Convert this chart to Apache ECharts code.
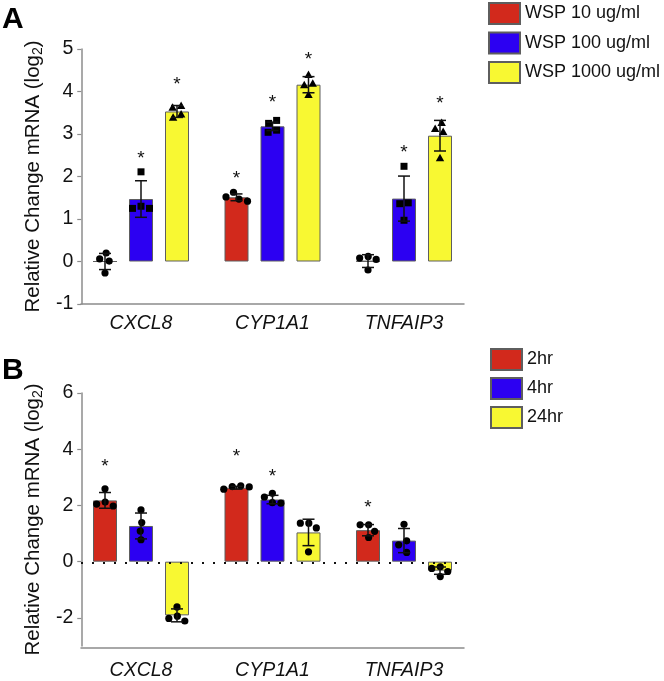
<!DOCTYPE html>
<html><head><meta charset="utf-8">
<script src="https://cdn.jsdelivr.net/npm/echarts@6/dist/echarts.min.js"></script>
<style>html,body{margin:0;padding:0;background:#fff}#c{width:664px;height:681px}</style>
</head><body><div id="c"></div>
<script>
// ---------- DATA ----------
const genes = ['CXCL8', 'CYP1A1', 'TNFAIP3'];
const namesA = ['WSP 10 ug/ml', 'WSP 100 ug/ml', 'WSP 1000 ug/ml'];
const namesB = ['2hr', '4hr', '24hr'];
const yTicksB = [-2, 0, 2, 4, 6];

// Panel A: means, SD, significance-marker height, replicate points
const meanA10   = [0.00, 1.51, 0.01];
const meanA100  = [1.47, 3.18, 1.48];
const meanA1000 = [3.53, 4.16, 2.96];
const errA10    = [0.19, 0.08, 0.15];
const errA100   = [0.43, 0.10, 0.53];
const errA1000  = [0.14, 0.19, 0.36];
const sigA10    = [null, 2.05, null];
const sigA100   = [2.52, 3.84, 2.65];
const sigA1000  = [4.26, 4.85, 3.81];
const ptsA10    = [[0.06, 0.20, 0.01, -0.27], [1.42, 1.52, 1.47, 1.63], [0.12, 0.05, 0.08, -0.20]];
const ptsA100   = [[2.11, 1.25, 1.30, 1.25], [3.25, 3.32, 3.04, 3.09], [2.24, 1.38, 1.36, 0.97]];
const ptsA1000  = [[3.66, 3.62, 3.46, 3.38], [4.39, 4.18, 4.15, 3.92], [3.26, 3.12, 3.05, 2.43]];

// Panel B
const meanB2  = [2.18, 2.63, 1.12];
const meanB4  = [1.27, 2.21, 0.75];
const meanB24 = [-1.91, 1.04, -0.32];
const errB2   = [0.28, 0.05, 0.20];
const errB4   = [0.46, 0.15, 0.43];
const errB24  = [0.23, 0.47, 0.13];
const sigB2   = [3.51, 3.86, 2.07];
const sigB4   = [null, 3.18, null];
const sigB24  = [null, null, null];
const ptsB2   = [[2.59, 2.12, 2.05, 1.98], [2.58, 2.70, 2.67, 2.66], [1.31, 1.31, 1.08, 0.86]];
const ptsB4   = [[1.84, 1.39, 1.09, 0.78], [2.43, 2.30, 2.10, 2.08], [1.33, 0.74, 0.60, 0.33]];
const ptsB24  = [[-1.61, -1.94, -2.11, -2.02], [1.37, 1.37, 1.20, 0.35], [-0.18, -0.24, -0.35, -0.53]];

// ---------- STYLE ----------
const FONT = 'Liberation Sans, Arial, sans-serif';
const COLORS = ['#d2291c', '#2c00f2', '#f8f832'];
const AXIS_COLOR = '#8c8c8c';
const BAR_W = 24, BAR_STEP = 36, CAP = 6, MIN_D = 8.5;

function markerEl(type, cx, cy) {
  const style = { fill: '#000' };
  if (type === 'square') return { type: 'rect', shape: { x: cx - 3.5, y: cy - 3.5, width: 7, height: 7 }, style };
  if (type === 'triangle') return { type: 'polygon', shape: { points: [[cx, cy - 4.5], [cx + 4.2, cy + 3], [cx - 4.2, cy + 3]] }, style };
  return { type: 'circle', shape: { cx, cy, r: 3.6 }, style };
}

// simple beeswarm: spread colliding points horizontally, then centre each cluster
function swarm(ys) {
  const order = ys.map((y, i) => i).sort((a, b) => ys[a] - ys[b]);
  const off = new Array(ys.length).fill(0);
  const placed = [];
  order.forEach(i => {
    let best = 0;
    for (let d = 0; d <= 40; d += 0.5) {
      let ok = false;
      for (const c of [-d, d]) {
        if (placed.every(p => Math.hypot(p[0] - c, p[1] - ys[i]) >= MIN_D)) { best = c; ok = true; break; }
      }
      if (ok) break;
    }
    off[i] = best;
    placed.push([best, ys[i]]);
  });
  let cluster = [order[0]];
  const clusters = [];
  for (let k = 1; k < order.length; k++) {
    if (ys[order[k]] - ys[order[k - 1]] < MIN_D) cluster.push(order[k]);
    else { clusters.push(cluster); cluster = [order[k]]; }
  }
  clusters.push(cluster);
  clusters.forEach(cl => {
    const m = cl.reduce((s, i) => s + off[i], 0) / cl.length;
    cl.forEach(i => { off[i] -= m; });
  });
  return off;
}

function makeRender(slot, marker) {
  return function (params, api) {
    const cat = api.value(0);
    const mean = api.value(1), err = api.value(2), sig = api.value(3);
    const pts = [api.value(4), api.value(5), api.value(6), api.value(7)];
    const x = api.coord([cat, mean])[0] + (slot - 1) * BAR_STEP;
    const yTop = api.coord([cat, mean + err])[1];
    const yBot = api.coord([cat, mean - err])[1];
    const ls = { stroke: '#111', lineWidth: 1.5 };
    const children = [];
    const ys = pts.map(v => api.coord([cat, v])[1]);
    const off = swarm(ys);
    ys.forEach((y, i) => children.push(markerEl(marker, x + off[i], y)));
    children.push({ type: 'line', shape: { x1: x, y1: yTop, x2: x, y2: yBot }, style: ls });
    children.push({ type: 'line', shape: { x1: x - CAP, y1: yTop, x2: x + CAP, y2: yTop }, style: ls });
    children.push({ type: 'line', shape: { x1: x - CAP, y1: yBot, x2: x + CAP, y2: yBot }, style: ls });
    if (!isNaN(sig)) {
      const ys2 = api.coord([cat, sig])[1];
      children.push({ type: 'text', style: { text: '*', x: x, y: ys2 + 4, font: '19px ' + FONT, fill: '#111', align: 'center', verticalAlign: 'middle' } });
    }
    return { type: 'group', children };
  };
}

function buildPanel(idx, names, means, errs, sigs, pts, markers) {
  const out = [];
  names.forEach((n, s) => {
    out.push({
      name: n, type: 'bar', xAxisIndex: idx, yAxisIndex: idx, barWidth: BAR_W, barGap: '50%', z: 1,
      itemStyle: { color: COLORS[s], borderColor: '#5e5e5e', borderWidth: 1 },
      data: means[s]
    });
  });
  names.forEach((n, s) => {
    out.push({
      name: n + ' pts', type: 'custom', xAxisIndex: idx, yAxisIndex: idx, z: 3, clip: false,
      renderItem: makeRender(s, markers[s]),
      encode: { x: 0, y: 1 },
      data: genes.map((g, i) => [i, means[s][i], errs[s][i], sigs[s][i] == null ? '-' : sigs[s][i]].concat(pts[s][i]))
    });
  });
  return out;
}

const seriesA = buildPanel(0, namesA, [meanA10, meanA100, meanA1000], [errA10, errA100, errA1000],
  [sigA10, sigA100, sigA1000], [ptsA10, ptsA100, ptsA1000], ['circle', 'square', 'triangle']);
const seriesB = buildPanel(1, namesB, [meanB2, meanB4, meanB24], [errB2, errB4, errB24],
  [sigB2, sigB4, sigB24], [ptsB2, ptsB4, ptsB24], ['circle', 'circle', 'circle']);
// dotted zero line in panel B (drawn in the frame grid so it spans the axis frame only)
const zeroLine = {
  name: 'zero', type: 'line', xAxisIndex: 3, yAxisIndex: 3, z: 5, data: [],
  markLine: {
    silent: true, symbol: 'none', animation: false, label: { show: false },
    lineStyle: { type: [2, 9], color: '#111', width: 2.2 },
    data: [{ yAxis: 0 }]
  }
};

const FONT_AX = 19.5;
const yName = {
  name: '{a|Relative Change mRNA (log}{s|2}{a|)}',
  nameLocation: 'middle', nameGap: 32, nameRotate: 90,
  nameTextStyle: { rich: { a: { fontSize: 20.5, fontFamily: FONT, color: '#111' }, s: { fontSize: 14, fontFamily: FONT, color: '#111', verticalAlign: 'bottom', padding: [9, 0, 0, 0] } } }
};
const axisCommonY = {
  type: 'value', offset: -6,
  axisLine: { show: true, lineStyle: { color: AXIS_COLOR, width: 1.5 } },
  axisTick: { show: true, length: 4, lineStyle: { color: AXIS_COLOR, width: 1.2 } },
  splitLine: { show: false },
  axisLabel: { fontSize: FONT_AX, fontFamily: FONT, color: '#111', margin: 8 }
};
const xCommon = {
  type: 'category', data: genes,
  axisLine: { show: false, onZero: false },
  axisTick: { show: false },
  axisLabel: { fontSize: FONT_AX, fontFamily: FONT, color: '#111', fontStyle: 'italic' }
};
const frameX = {
  type: 'value', min: 0, max: 1, axisLabel: { show: false }, axisTick: { show: false }, splitLine: { show: false },
  axisLine: { show: true, onZero: false, lineStyle: { color: AXIS_COLOR, width: 1.5 } }
};
const frameY = { type: 'value', show: false, min: -3, max: 6 };

const chart = echarts.init(document.getElementById('c'), null, { renderer: 'canvas' });
chart.setOption({
  animation: false,
  backgroundColor: '#fff',
  grid: [
    { left: 75.25, top: 49, width: 394.5, height: 255 },
    { left: 75.25, top: 393, width: 394.5, height: 255 },
    { left: 81, top: 49, width: 383, height: 255 },
    { left: 81, top: 393, width: 383, height: 255 }
  ],
  xAxis: [
    Object.assign({}, xCommon, { gridIndex: 0, axisLabel: Object.assign({}, xCommon.axisLabel, { margin: 10 }) }),
    Object.assign({}, xCommon, { gridIndex: 1, axisLabel: Object.assign({}, xCommon.axisLabel, { margin: 15 }) }),
    Object.assign({}, frameX, { gridIndex: 2 }),
    Object.assign({}, frameX, { gridIndex: 3 })
  ],
  yAxis: [
    Object.assign({}, axisCommonY, yName, { gridIndex: 0, min: -1, max: 5, interval: 1 }),
    Object.assign({}, axisCommonY, yName, {
      gridIndex: 1, min: -3, max: 6,
      axisTick: Object.assign({}, axisCommonY.axisTick, { customValues: yTicksB }),
      axisLabel: Object.assign({}, axisCommonY.axisLabel, { customValues: yTicksB })
    }),
    Object.assign({}, frameY, { gridIndex: 2, min: -1, max: 5 }),
    Object.assign({}, frameY, { gridIndex: 3 })
  ],
  legend: [
    { data: namesA, left: 488, top: 2, padding: 0, orient: 'vertical', icon: 'rect', itemWidth: 31, itemHeight: 21, itemGap: 6.5,
      selectedMode: false, textStyle: { fontSize: 18, fontFamily: FONT, color: '#111' } },
    { data: namesB, left: 490, top: 348, padding: 0, orient: 'vertical', icon: 'rect', itemWidth: 31, itemHeight: 21, itemGap: 6,
      selectedMode: false, textStyle: { fontSize: 18, fontFamily: FONT, color: '#111' } }
  ],
  graphic: [
    { type: 'text', left: 2, top: 5, style: { text: 'A', font: 'bold 30px ' + FONT, fill: '#000' } },
    { type: 'text', left: 2, top: 356, style: { text: 'B', font: 'bold 30px ' + FONT, fill: '#000' } }
  ],
  series: seriesA.concat(seriesB, [zeroLine])
});
</script>
</body></html>
